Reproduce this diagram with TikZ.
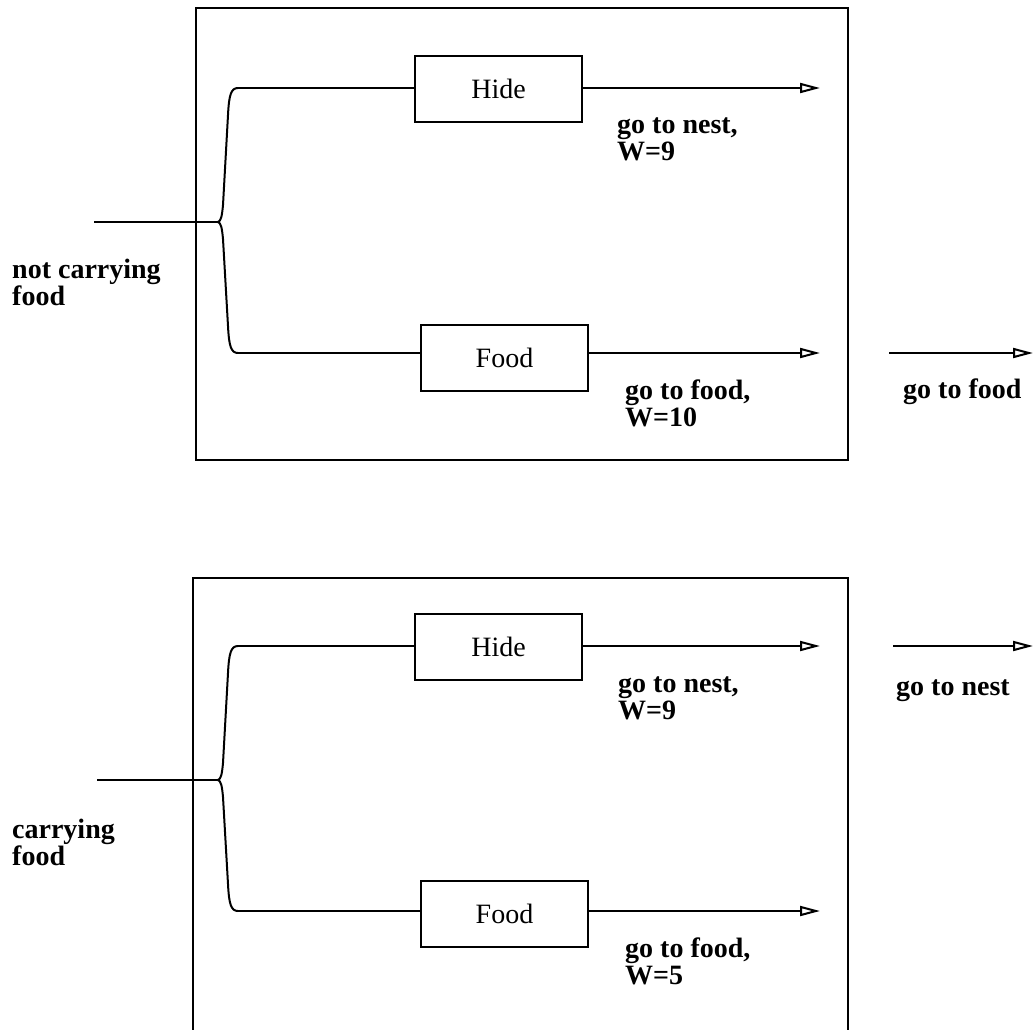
\documentclass[tikz,border=0pt]{standalone}
\usepackage{fontspec}
\setmainfont{Liberation Serif}
\usetikzlibrary{arrows.meta,calc}

\tikzset{
  box/.style={draw, line width=2pt, minimum width=167pt, minimum height=66pt,
    inner sep=0pt, font=\fontsize{28}{27}\selectfont},
  lbl/.style={anchor=base west, align=left, inner sep=0pt,
    font=\fontsize{28}{27}\selectfont\bfseries},
  conn/.style={line width=2pt},
  arr/.style={conn, -{Triangle[open, length=20pt, width=10pt, line width=2pt]}},
  curly/.pic={
    \draw (20,-134) .. controls (13,-134) and (11,-127) .. (10,-107)
      -- (5,-17) .. controls (4,-6) and (3,-1) .. (0,0)
      .. controls (3,1) and (4,6) .. (5,17)
      -- (10,104) .. controls (11,124) and (13,131) .. (20,131);
  }
}

\begin{document}
\begin{tikzpicture}[x=1pt, y=-1pt]
  \clip (0,0) rectangle (1036,1029);
  \fill[white] (0,0) rectangle (1036,1029);

  % upper panel: not carrying food
  \draw[conn] (196,8) rectangle (848,460);
  \node[box] (hide1) at (498.5,88.5) {Hide};
  \node[box] (food1) at (504.5,358) {Food};
  \coordinate (in1) at (94,222);
  \coordinate (tip1) at (218,222);
  \coordinate (up1) at (238,88);
  \coordinate (lo1) at (238,353);
  \coordinate (out1a) at (820,88);
  \coordinate (out1b) at (820,353);
  \coordinate (res1s) at (889,353);
  \coordinate (res1e) at (1033,353);
  \pic[conn] at (tip1) {curly};
  \draw[conn] (in1) -- (tip1);
  \draw[conn] (up1) -- (hide1.west |- up1);
  \draw[conn] (lo1) -- (food1.west |- lo1);
  \draw[arr] (hide1.east |- up1) -- (out1a);
  \draw[arr] (food1.east |- lo1) -- (out1b);
  \draw[arr] (res1s) -- (res1e);
  \node[lbl] (w1a) at (617,160) {go to nest,\\W=9};
  \node[lbl] (w1b) at (625,426) {go to food,\\W=10};
  \node[lbl] (cond1) at (12,305) {not carrying\\food};
  \node[lbl] (res1) at (903,398) {go to food};

  % lower panel: carrying food
  \draw[conn] (193,578) rectangle (848,1060);
  \node[box] (hide2) at (498.5,646.5) {Hide};
  \node[box] (food2) at (504.5,914) {Food};
  \coordinate (in2) at (97,780);
  \coordinate (tip2) at (218,780);
  \coordinate (up2) at (238,646);
  \coordinate (lo2) at (238,911);
  \coordinate (out2a) at (820,646);
  \coordinate (out2b) at (820,911);
  \coordinate (res2s) at (893,646);
  \coordinate (res2e) at (1033,646);
  \pic[conn] at (tip2) {curly};
  \draw[conn] (in2) -- (tip2);
  \draw[conn] (up2) -- (hide2.west |- up2);
  \draw[conn] (lo2) -- (food2.west |- lo2);
  \draw[arr] (hide2.east |- up2) -- (out2a);
  \draw[arr] (food2.east |- lo2) -- (out2b);
  \draw[arr] (res2s) -- (res2e);
  \node[lbl] (w2a) at (618,719) {go to nest,\\W=9};
  \node[lbl] (w2b) at (625,984) {go to food,\\W=5};
  \node[lbl] (cond2) at (12,865) {carrying\\food};
  \node[lbl] (res2) at (896,695) {go to nest};
\end{tikzpicture}
\end{document}
